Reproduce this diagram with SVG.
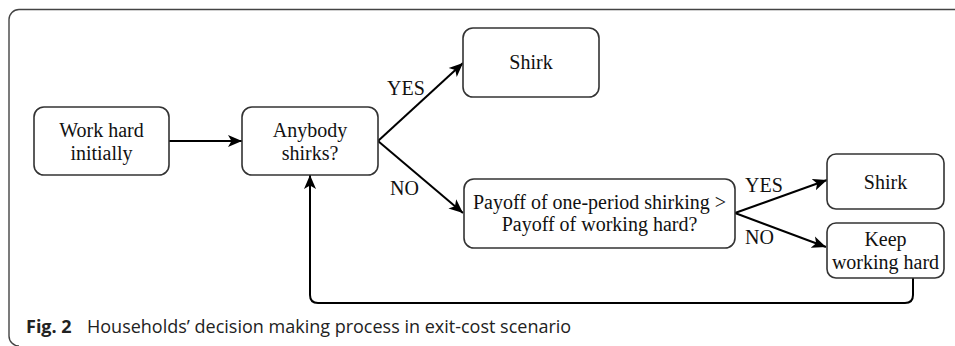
<svg xmlns="http://www.w3.org/2000/svg" width="955" height="346" viewBox="0 0 955 346">
<style>
.node rect{fill:#fff;stroke:#333;stroke-width:1.6}
.t{font-family:"Liberation Serif","Times New Roman",serif;font-size:20px;fill:#111;text-anchor:middle}
.lbl{font-family:"Liberation Serif","Times New Roman",serif;font-size:20px;fill:#111}
.c{fill:none;stroke:#000;stroke-width:2}
.cap{font-family:"Open Sans","Noto Sans",sans-serif;font-size:18px;fill:#222}
</style>
<defs>
<marker id="ah" markerUnits="userSpaceOnUse" markerWidth="15" markerHeight="13" viewBox="0 0 15 13" refX="14" refY="6.5" orient="auto">
<path d="M0,0.5 L14,6.5 L0,12.5 L3.5,6.5 Z" fill="#000"/>
</marker>
</defs>
<path d="M955,9.5 H19 A10,10 0 0 0 9,19.5 V336 A10,10 0 0 0 19,346" fill="none" stroke="#444" stroke-width="1.4"/>
<g id="connectors">
<path class="c" d="M169,141 H242" marker-end="url(#ah)"/>
<path class="c" d="M378,141 L463,63" marker-end="url(#ah)"/>
<path class="c" d="M378,141 L463,213" marker-end="url(#ah)"/>
<path class="c" d="M735,213 L827,180" marker-end="url(#ah)"/>
<path class="c" d="M735,213 L826,247" marker-end="url(#ah)"/>
<path class="c" d="M913,278 V295 Q913,303 905,303 H318 Q310,303 310,295 V175" marker-end="url(#ah)"/>
<text class="lbl" x="387" y="95">YES</text>
<text class="lbl" x="390" y="195">NO</text>
<text class="lbl" x="745" y="192">YES</text>
<text class="lbl" x="745" y="244">NO</text>
</g>
<g id="n1" class="node">
<rect x="34" y="107" width="135" height="68" rx="10"/>
<text class="t" x="101.5" y="137">Work hard</text>
<text class="t" x="101.5" y="159.5">initially</text>
</g>
<g id="n2" class="node">
<rect x="242" y="107" width="136" height="68" rx="10"/>
<text class="t" x="310" y="137">Anybody</text>
<text class="t" x="310" y="159.5">shirks?</text>
</g>
<g id="n3" class="node">
<rect x="463" y="28" width="136" height="69" rx="10"/>
<text class="t" x="531" y="69">Shirk</text>
</g>
<g id="n4" class="node">
<rect x="464" y="179" width="271" height="69" rx="10"/>
<text class="t" x="599.5" y="208.5">Payoff of one-period shirking &gt;</text>
<text class="t" x="599.5" y="231">Payoff of working hard?</text>
</g>
<g id="n5" class="node">
<rect x="827" y="154" width="117" height="55" rx="9"/>
<text class="t" x="885.5" y="188.5">Shirk</text>
</g>
<g id="n6" class="node">
<rect x="827" y="223" width="117" height="55" rx="9"/>
<text class="t" x="885.5" y="246">Keep</text>
<text class="t" x="885.5" y="268.5">working hard</text>
</g>
<text class="cap" x="26" y="333"><tspan font-weight="bold">Fig. 2</tspan><tspan x="87">Households’ decision making process in exit-cost scenario</tspan></text>
</svg>
